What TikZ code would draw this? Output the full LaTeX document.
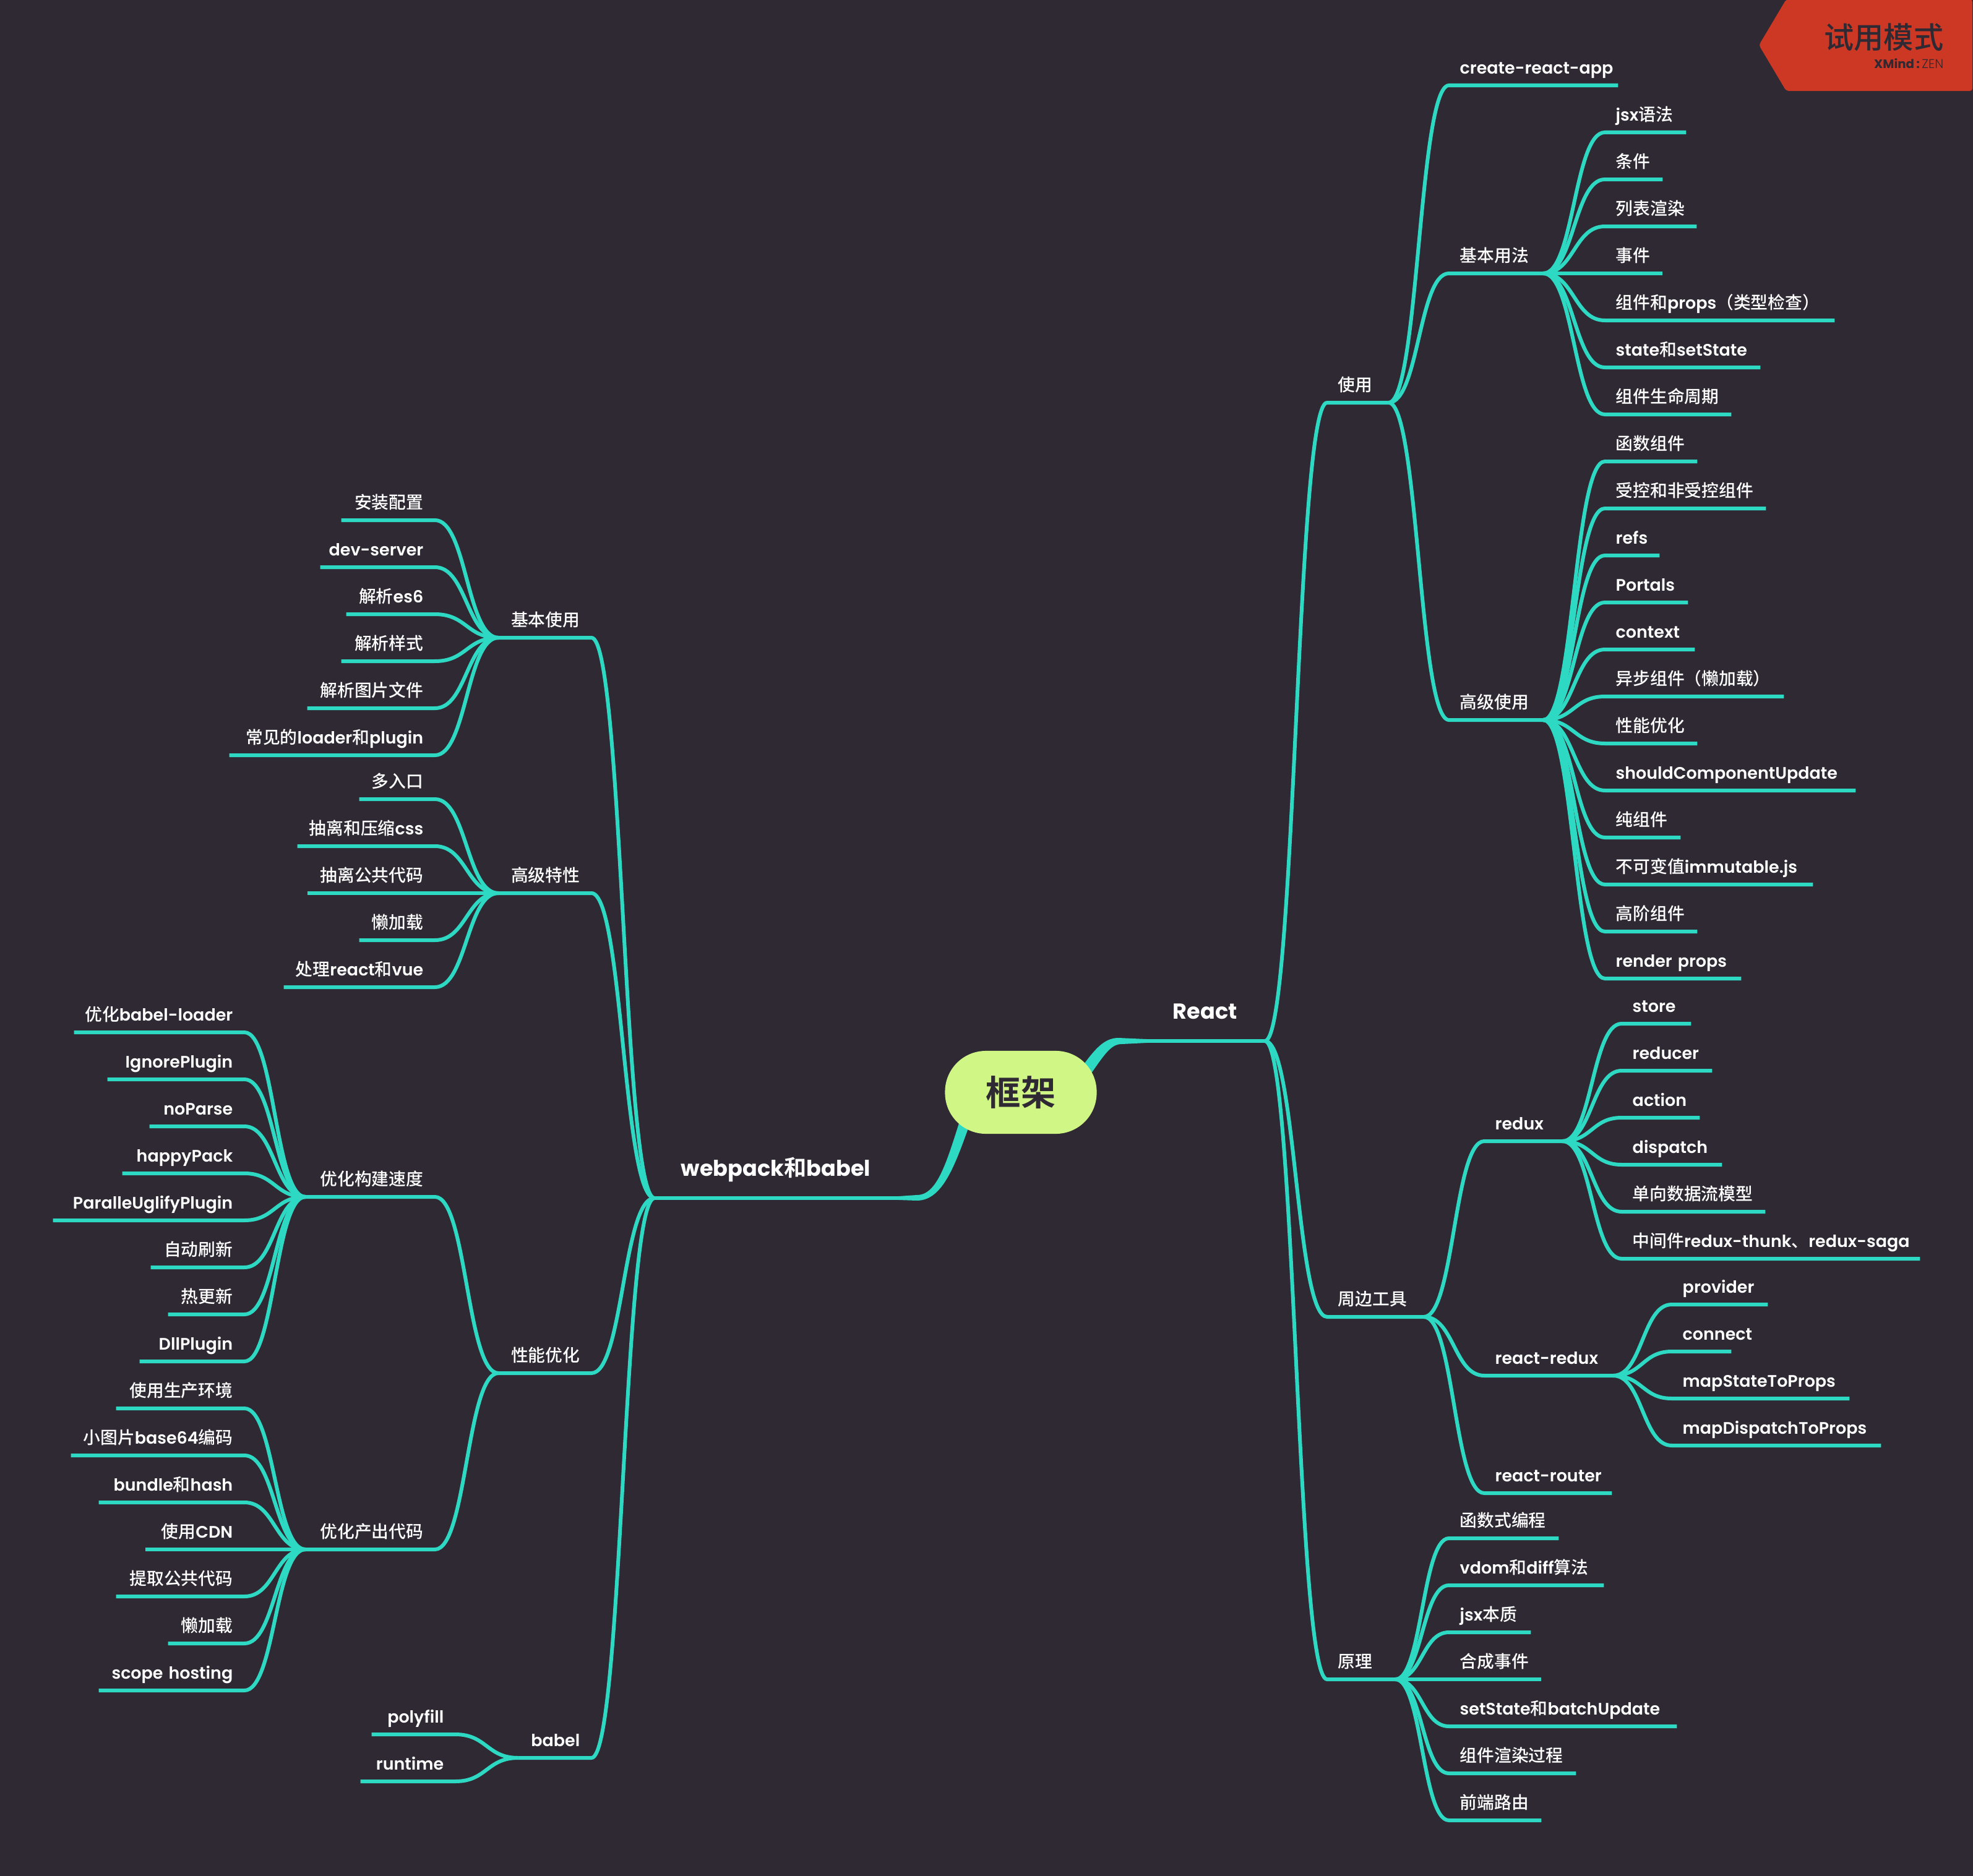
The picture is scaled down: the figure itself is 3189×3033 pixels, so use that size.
\documentclass[tikz,border=0pt]{standalone}
\usepackage{fontspec}
\setmainfont{Poppins SemiBold}[Scale=0.97,BoldFont=Poppins Bold]
\newfontfamily\cjk{Noto Sans CJK SC Medium}[BoldFont=Noto Sans CJK SC Bold]
\newfontfamily\zenfont{Poppins Light}
\usetikzlibrary{calc}

\definecolor{mindbg}{RGB}{47,41,51}
\definecolor{mindteal}{RGB}{46,217,195}
\definecolor{mindroot}{RGB}{208,246,133}
\definecolor{mindbadge}{RGB}{204,56,36}

\newcommand{\zh}[1]{{\cjk #1}}
\tikzset{
  branch/.style={draw=mindteal,line width=.06cm},
  taper/.style={fill=mindteal},
  fanout/.style={to path={let \p1=(\tikztostart),\p2=(\tikztotarget) in
    .. controls ({(\x1+\x2)/2},\y1) and ({(\x1+\x2)/2},\y2) .. (\tikztotarget)}},
  topic/.style={inner xsep=0pt,inner ysep=0pt,text=white,text height=.26cm,text depth=.18cm,
    font=\fontsize{7.9}{10}\selectfont},
  rtopic/.style={topic,anchor=south west,align=left},
  ltopic/.style={topic,anchor=south east,align=right},
  maintopic/.style={inner xsep=0pt,inner ysep=0pt,text=white,text height=.3cm,text depth=.35cm,
    font=\fontsize{10.3}{12}\bfseries,anchor=south west,align=left},
  rootnode/.style={fill=mindroot,text=mindbg,rounded corners=.66cm,minimum width=2.45cm,
    minimum height=1.34cm,font=\fontsize{16}{18}\bfseries}
}
% name, left end, right end, y, text
\newcommand{\rtopic}[5]{%
  \pgfmathsetlengthmacro\topicw{(#3-#2)*.01cm}%
  \node[rtopic,text width=\topicw] (#1) at (#2,#4) {\hspace*{.17cm}\mbox{#5}};}
\newcommand{\ltopic}[5]{%
  \pgfmathsetlengthmacro\topicw{(#3-#2)*.01cm}%
  \node[ltopic,text width=\topicw] (#1) at (#3,#4) {\mbox{#5}\hspace*{.18cm}};}

\begin{document}
\begin{tikzpicture}[x=.01cm,y=-.01cm]
  \fill[mindbg] (0,0) rectangle (3189,3033);
  \useasboundingbox (0,0) rectangle (3189,3033);

  % trial badge
  \fill[mindbadge,rounded corners=.04cm] (2843,73) -- (2887,-1) -- (3188,-1) -- (3188,147) -- (2887,147) -- cycle;
  \node[anchor=east,inner sep=0pt,text=mindbg,font=\fontsize{13.7}{16}\selectfont] (trial) at (3142,60) {\zh{试用模式}};
  \node[anchor=east,inner sep=0pt,text=mindbg,font=\fontsize{5.8}{7}\selectfont] (xmind) at (3142,103) {\textbf{XMind\,:\,}{\zenfont ZEN}};

  % main topics
  \node[maintopic,text width=1.90cm] (react) at (1853,1683) {\hspace*{.42cm}\mbox{React}};
  \node[maintopic,text width=3.93cm] (webpack) at (1058,1937) {\hspace*{.42cm}\mbox{webpack\zh{和}babel}};

  % React side
  \rtopic{use}{2145}{2243}{651}{\zh{使用}}
  \rtopic{tools}{2145}{2300}{2129}{\zh{周边工具}}
  \rtopic{theory}{2145}{2254}{2715}{\zh{原理}}

  \rtopic{cra}{2342}{2614}{138}{create-react-app}
  \rtopic{basic}{2342}{2493}{442}{\zh{基本用法}}
  \rtopic{advanced}{2342}{2493}{1164}{\zh{高级使用}}

  \rtopic{jsx}{2594}{2724}{214}{jsx\zh{语法}}
  \rtopic{cond}{2594}{2686}{290}{\zh{条件}}
  \rtopic{listr}{2594}{2741}{366}{\zh{列表渲染}}
  \rtopic{event}{2594}{2686}{442}{\zh{事件}}
  \rtopic{props}{2594}{2964}{518}{\zh{组件和}props\zh{（类型检查）}}
  \rtopic{state}{2594}{2844}{594}{state\zh{和}setState}
  \rtopic{life}{2594}{2797}{670}{\zh{组件生命周期}}

  \rtopic{func}{2594}{2742}{746}{\zh{函数组件}}
  \rtopic{ctrl}{2594}{2853}{822}{\zh{受控和非受控组件}}
  \rtopic{refs}{2594}{2681}{898}{refs}
  \rtopic{portals}{2594}{2727}{974}{Portals}
  \rtopic{context}{2594}{2738}{1050}{context}
  \rtopic{asyncc}{2594}{2882}{1126}{\zh{异步组件（懒加载）}}
  \rtopic{perf}{2594}{2742}{1202}{\zh{性能优化}}
  \rtopic{scu}{2594}{2998}{1278}{shouldComponentUpdate}
  \rtopic{pure}{2594}{2715}{1354}{\zh{纯组件}}
  \rtopic{immut}{2594}{2929}{1430}{\zh{不可变值}immutable.js}
  \rtopic{hoc}{2594}{2742}{1506}{\zh{高阶组件}}
  \rtopic{rprops}{2594}{2813}{1582}{render props}

  \rtopic{redux}{2399}{2524}{1845}{redux}
  \rtopic{rredux}{2399}{2606}{2224}{react-redux}
  \rtopic{router}{2399}{2604}{2414}{react-router}

  \rtopic{store}{2621}{2732}{1655}{store}
  \rtopic{reducer}{2621}{2766}{1731}{reducer}
  \rtopic{action}{2621}{2746}{1807}{action}
  \rtopic{dispatch}{2621}{2782}{1883}{dispatch}
  \rtopic{oneway}{2621}{2852}{1959}{\zh{单向数据流模型}}
  \rtopic{middle}{2621}{3102}{2035}{\zh{中间件}redux-thunk\zh{、}redux-saga}

  \rtopic{provider}{2702}{2856}{2109}{provider}
  \rtopic{connect}{2702}{2797}{2185}{connect}
  \rtopic{mapstate}{2702}{2988}{2261}{mapStateToProps}
  \rtopic{mapdisp}{2702}{3039}{2337}{mapDispatchToProps}

  \rtopic{fp}{2342}{2518}{2487}{\zh{函数式编程}}
  \rtopic{vdom}{2342}{2591}{2563}{vdom\zh{和}diff\zh{算法}}
  \rtopic{jsxc}{2342}{2473}{2639}{jsx\zh{本质}}
  \rtopic{synth}{2342}{2490}{2715}{\zh{合成事件}}
  \rtopic{batch}{2342}{2709}{2791}{setState\zh{和}batchUpdate}
  \rtopic{render}{2342}{2546}{2867}{\zh{组件渲染过程}}
  \rtopic{fer}{2342}{2490}{2943}{\zh{前端路由}}

  % webpack side
  \ltopic{wbasic}{807}{956}{1031}{\zh{基本使用}}
  \ltopic{wadv}{807}{956}{1444}{\zh{高级特性}}
  \ltopic{wperf}{807}{956}{2220}{\zh{性能优化}}
  \ltopic{babel}{839}{956}{2842}{babel}

  \ltopic{install}{553}{703}{841}{\zh{安装配置}}
  \ltopic{devsrv}{519}{703}{917}{dev-server}
  \ltopic{es}{561}{703}{993}{\zh{解析}es6}
  \ltopic{css}{553}{703}{1069}{\zh{解析样式}}
  \ltopic{img}{498}{703}{1145}{\zh{解析图片文件}}
  \ltopic{loader}{372}{703}{1221}{\zh{常见的}loader\zh{和}plugin}

  \ltopic{multi}{582}{703}{1292}{\zh{多入口}}
  \ltopic{extract}{482}{703}{1368}{\zh{抽离和压缩}css}
  \ltopic{common}{498}{703}{1444}{\zh{抽离公共代码}}
  \ltopic{lazy}{582}{703}{1520}{\zh{懒加载}}
  \ltopic{rvue}{460}{703}{1596}{\zh{处理}react\zh{和}vue}

  \ltopic{speed}{495}{703}{1935}{\zh{优化构建速度}}
  \ltopic{output}{495}{703}{2505}{\zh{优化产出代码}}

  \ltopic{bload}{121}{395}{1669}{\zh{优化}babel-loader}
  \ltopic{ignore}{175}{395}{1745}{IgnorePlugin}
  \ltopic{noparse}{243}{395}{1821}{noParse}
  \ltopic{happy}{199}{395}{1897}{happyPack}
  \ltopic{uglify}{87}{395}{1973}{ParalleUglifyPlugin}
  \ltopic{autor}{245}{395}{2049}{\zh{自动刷新}}
  \ltopic{hot}{273}{395}{2125}{\zh{热更新}}
  \ltopic{dll}{227}{395}{2201}{DllPlugin}

  \ltopic{prod}{189}{395}{2277}{\zh{使用生产环境}}
  \ltopic{base}{116}{395}{2353}{\zh{小图片}base64\zh{编码}}
  \ltopic{bundle}{161}{395}{2429}{bundle\zh{和}hash}
  \ltopic{cdn}{236}{395}{2505}{\zh{使用}CDN}
  \ltopic{pubc}{189}{395}{2581}{\zh{提取公共代码}}
  \ltopic{lazyo}{273}{395}{2657}{\zh{懒加载}}
  \ltopic{scope}{161}{395}{2733}{scope hosting}

  \ltopic{polyfill}{602}{736}{2804}{polyfill}
  \ltopic{runtime}{584}{736}{2880}{runtime}

  % connectors, parent end to child underline
  \foreach \up/\kids in {react/{use,tools,theory},use/{cra,basic,advanced},
      basic/{jsx,cond,listr,event,props,state,life},
      advanced/{func,ctrl,refs,portals,context,asyncc,perf,scu,pure,immut,hoc,rprops},
      tools/{redux,rredux,router},redux/{store,reducer,action,dispatch,oneway,middle},
      rredux/{provider,connect,mapstate,mapdisp},theory/{fp,vdom,jsxc,synth,batch,render,fer}}
    \foreach \kid in \kids
      \draw[branch] (\up.south east) to[fanout] (\kid.south west) -- (\kid.south east);
  \foreach \up/\kids in {webpack/{wbasic,wadv,wperf,babel},wbasic/{install,devsrv,es,css,img,loader},
      wadv/{multi,extract,common,lazy,rvue},wperf/{speed,output},
      speed/{bload,ignore,noparse,happy,uglify,autor,hot,dll},
      output/{prod,base,bundle,cdn,pubc,lazyo,scope},babel/{polyfill,runtime}}
    \foreach \kid in \kids
      \draw[branch] (\up.south west) to[fanout] (\kid.south east) -- (\kid.south west);

  \draw[branch] (react.south west) -- (react.south east);
  \draw[branch] (webpack.south west) -- (webpack.south east);

  % thick ends at the root
  \coordinate (rootr1) at (1745,1730);
  \coordinate (rootr2) at (1757,1745);
  \coordinate (rootw1) at (1555,1800);
  \coordinate (rootw2) at (1570,1810);
  \fill[taper] (rootr1) .. controls (1770,1695) and (1785,1678) .. (1808,1678)
    -- ($(react.south west)+(0,-3)$) -- ($(react.south west)+(0,3)$)
    -- (1813,1688) .. controls (1795,1688) and (1785,1705) .. (rootr2) -- cycle;
  \fill[taper] (rootw1) .. controls (1530,1880) and (1515,1932) .. (1482,1932)
    -- ($(webpack.south east)+(0,-3)$) -- ($(webpack.south east)+(0,3)$)
    -- (1482,1941) .. controls (1525,1941) and (1545,1880) .. (rootw2) -- cycle;

  \node[rootnode] (root) at (1650,1766) {\zh{框架}};
\end{tikzpicture}
\end{document}
